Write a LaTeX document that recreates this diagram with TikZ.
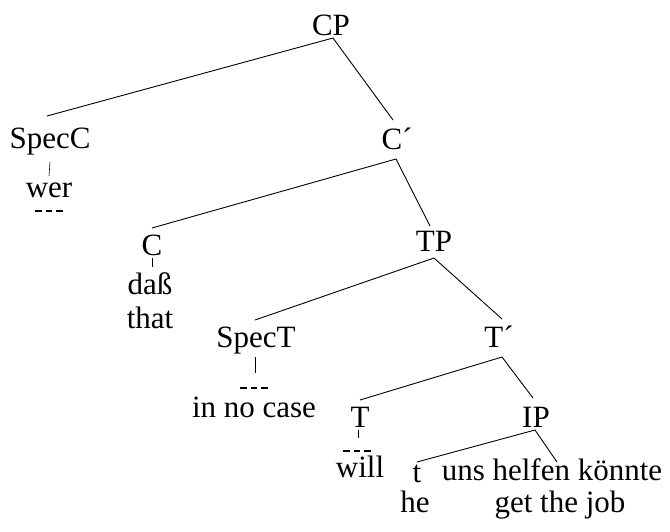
\documentclass[tikz,border=0pt]{standalone}
\usepackage{fontspec}
\setmainfont{Liberation Serif}
\begin{document}
\begin{tikzpicture}[x=1pt,y=-1pt,
  lab/.style={anchor=base,inner sep=0pt,font=\fontsize{31}{34}\selectfont},
  br/.style={line width=0.9pt},
  tk/.style={line width=0.6pt},
  dsh/.style={line width=1.2pt,dash pattern=on 6.5pt off 4pt},
]
\useasboundingbox (0,0) rectangle (670,531);
% nodes
\node[lab] (CP) at (331,35) {CP};
\node[lab] (SpecC) at (50,148) {SpecC};
\node[lab] (wer) at (49,197) {wer};
\node[lab] (Cb) at (397,149) {C´};
\node[lab] (C) at (152,255) {C};
\node[lab] (dass) at (150,294) {daß};
\node[lab] (that) at (150,328) {that};
\node[lab] (TP) at (434,251) {TP};
\node[lab] (SpecT) at (256,347) {SpecT};
\node[lab] (nocase) at (254,417) {in no case};
\node[lab] (Tb) at (499,347) {T´};
\node[lab] (T) at (360,427) {T};
\node[lab] (will) at (360,477) {will};
\node[lab] (IP) at (536,427) {IP};
\node[lab] (t) at (417,482) {t};
\node[lab] (he) at (415,512) {he};
\node[lab] (uns) at (552,480) {uns helfen könnte};
\node[lab] (job) at (560,512) {get the job};
% branches
\draw[br] ([shift={(-3,-32)}]SpecC.base) -- ([shift={(2,3)}]CP.base) -- ([shift={(-4,-29)}]Cb.base);
\draw[br] ([shift={(0,-27)}]C.base) -- ([shift={(-1,10)}]Cb.base) -- ([shift={(-4,-25)}]TP.base);
\draw[br] ([shift={(-1,-27)}]SpecT.base) -- ([shift={(0,7)}]TP.base) -- ([shift={(3,-28)}]Tb.base);
\draw[br] ([shift={(0,-27)}]T.base) -- ([shift={(3,10)}]Tb.base) -- ([shift={(-3,-29)}]IP.base);
\draw[br] ([shift={(0,-20)}]t.base) -- ([shift={(-1,3)}]IP.base) -- ([shift={(5,-18)}]uns.base);
% ticks
\draw[tk] ([shift={(0,14)}]SpecC.base) -- ([shift={(0,-21)}]wer.base);
\draw[tk] ([shift={(0,3)}]C.base) -- ([shift={(2,-27)}]dass.base);
\draw[tk] ([shift={(-1,10)}]SpecT.base) -- ([shift={(1,-44)}]nocase.base);
\draw[tk] ([shift={(-2,3)}]T.base) -- ([shift={(-2,-39)}]will.base);
% empty-position dashes
\draw[dsh] ([shift={(-14,14)}]wer.base) -- ([shift={(15,14)}]wer.base);
\draw[dsh] ([shift={(-16,41)}]SpecT.base) -- ([shift={(13,41)}]SpecT.base);
\draw[dsh] ([shift={(-17,24)}]T.base) -- ([shift={(12,24)}]T.base);
\end{tikzpicture}
\end{document}
